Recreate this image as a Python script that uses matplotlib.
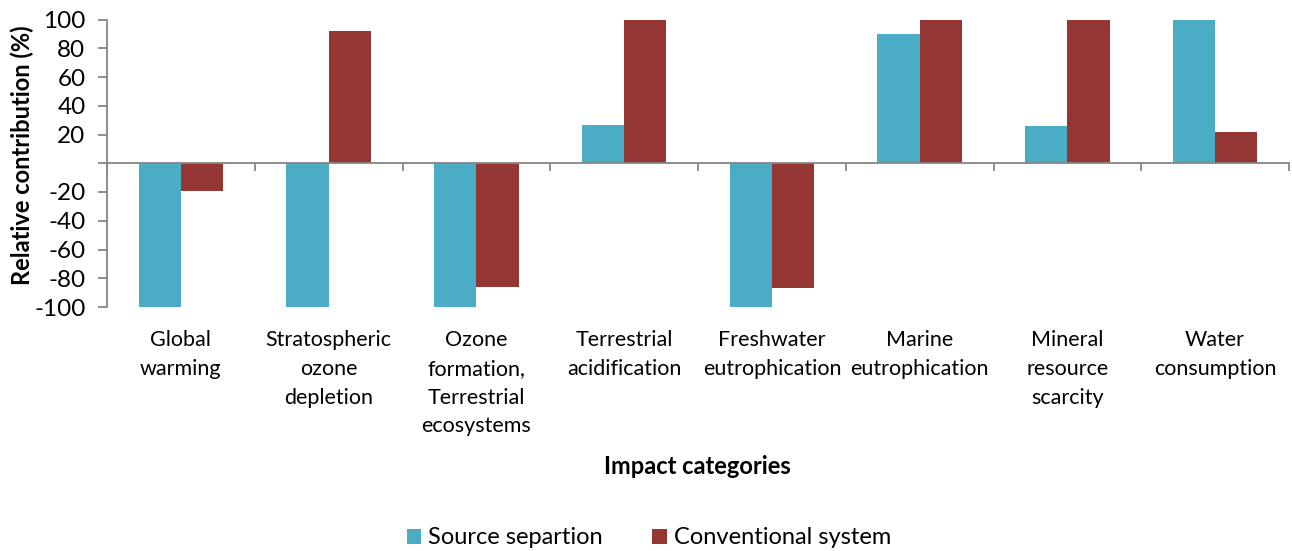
import matplotlib
matplotlib.use("Agg")
import matplotlib.pyplot as plt
import matplotlib.transforms as mtransforms
import numpy as np

categories = ["Global\nwarming", "Stratospheric\nozone\ndepletion",
              "Ozone\nformation,\nTerrestrial\necosystems", "Terrestrial\nacidification",
              "Freshwater\neutrophication", "Marine\neutrophication",
              "Mineral\nresource\nscarcity", "Water\nconsumption"]
source_separation = [-100, -100, -100, 26.5, -100, 90, 26, 100]
conventional = [-19, 92, -86, 100, -86.5, 100, 100, 22]
series_names = ["Source separtion", "Conventional system"]
yticks = [-100, -80, -60, -40, -20, 0, 20, 40, 60, 80, 100]
ytick_labels = ["-100", "-80", "-60", "-40", "-20", "", "20", "40", "60", "80", "100"]

plt.rcParams['font.family'] = ['Lato', 'DejaVu Sans']

fig = plt.figure(figsize=(12.92, 5.51), dpi=100)
ax = fig.add_axes([107/1292, 1-307/551, (1289-107)/1292, (307-19.5)/551])

blue = "#4BACC6"
red = "#943634"
gray = "#868686"

x = np.arange(len(categories))
w = 1/3.5
ax.bar(x - w/2, source_separation, w, color=blue, label=series_names[0], linewidth=0)
ax.bar(x + w/2, conventional, w, color=red, label=series_names[1], linewidth=0)

ax.set_xlim(-0.5, len(categories) - 0.5)
ax.set_ylim(-100, 100)

for s in ['top', 'right']:
    ax.spines[s].set_visible(False)
ax.spines['bottom'].set_position(('data', 0))
ax.spines['bottom'].set_color(gray)
ax.spines['left'].set_color(gray)
ax.spines['bottom'].set_linewidth(1.3)
ax.spines['left'].set_linewidth(1.3)

ax.set_xticks(np.arange(-0.5, len(categories), 1.0))
ax.set_xticklabels([])
ax.tick_params(axis='x', direction='out', length=5.5, width=1.3, color=gray)
ax.set_yticks(yticks)
ax.set_yticklabels(ytick_labels, fontsize=17.5)
ax.tick_params(axis='y', direction='out', length=6.5, width=1.3, color=gray, pad=9)

trans = mtransforms.blended_transform_factory(ax.transData, ax.transAxes)
for xi, lab in zip(x, categories):
    ax.text(xi, -0.08, lab, transform=trans, ha='center', va='top',
            fontsize=15.5, linespacing=1.55)

fig.text(0.017, 1-155/551, "Relative contribution (%)", rotation=90,
         ha='center', va='center', fontsize=17, fontweight='bold')
fig.text(697/1292, 1-466/551, "Impact categories", ha='center', va='center',
         fontsize=17, fontweight='bold')

fig.legend(loc='center', bbox_to_anchor=(649/1292, 1-538/551), ncol=2, frameon=False,
           fontsize=17, handlelength=0.6, handleheight=0.6, columnspacing=2.1,
           handletextpad=0.3, borderpad=0)

fig.savefig("out.png", dpi=100)
